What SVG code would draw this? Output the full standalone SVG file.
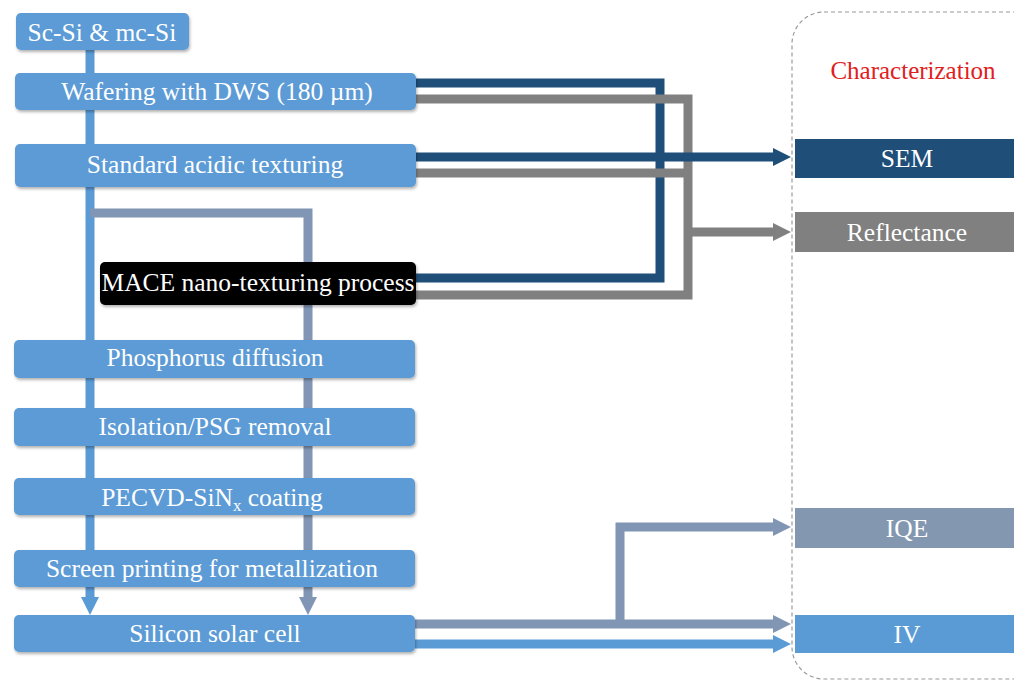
<svg xmlns="http://www.w3.org/2000/svg" width="1014" height="682" viewBox="0 0 1014 682">
<style>
.box{fill:#5b9bd5;filter:url(#sh)}
.t{font-family:"Liberation Serif","Times New Roman",serif;font-size:25.5px;fill:#fff;text-anchor:middle}
.ln{fill:none;stroke-width:9;stroke-linejoin:miter}
</style>
<defs>
<filter id="sh" x="-5%" y="-20%" width="110%" height="150%">
<feDropShadow dx="1" dy="2" stdDeviation="1.5" flood-color="#000" flood-opacity="0.3"/>
</filter>
<marker id="aDark" markerUnits="userSpaceOnUse" markerWidth="20" markerHeight="20" refX="0" refY="10" orient="auto"><path d="M0,1 L18,10 L0,19 Z" fill="#1f4e79"/></marker>
<marker id="aGray" markerUnits="userSpaceOnUse" markerWidth="20" markerHeight="20" refX="0" refY="10" orient="auto"><path d="M0,1 L18,10 L0,19 Z" fill="#808080"/></marker>
<marker id="aSlate" markerUnits="userSpaceOnUse" markerWidth="20" markerHeight="20" refX="0" refY="10" orient="auto"><path d="M0,1 L18,10 L0,19 Z" fill="#8096b4"/></marker>
<marker id="aLight" markerUnits="userSpaceOnUse" markerWidth="20" markerHeight="20" refX="0" refY="10" orient="auto"><path d="M0,1 L18,10 L0,19 Z" fill="#5b9bd5"/></marker>
</defs>
<rect width="1014" height="682" fill="#fff"/>
<g id="characterization">
<rect x="792" y="12" width="260" height="667" rx="32" fill="none" stroke="#9a9a9a" stroke-width="1.2" stroke-dasharray="4,3"/>
<text x="913" y="79" style="font-family:'Liberation Serif','Times New Roman',serif;font-size:25px;fill:#e02020;text-anchor:middle">Characterization</text>
</g>
<g id="connectors">
<path class="ln" d="M90,50 V597" stroke="#5b9bd5" marker-end="url(#aLight)"/>
<path class="ln" d="M90,213 H308 V597" stroke="#8096b4" marker-end="url(#aSlate)"/>
<path class="ln" d="M415,83 H660 V278 H415" stroke="#1f4e79"/>
<path class="ln" d="M415,99 H688 V295 H415" stroke="#808080"/>
<path class="ln" d="M415,173 H688" stroke="#808080"/>
<path class="ln" d="M688,232 H773" stroke="#808080" marker-end="url(#aGray)"/>
<path class="ln" d="M415,157 H773" stroke="#1f4e79" marker-end="url(#aDark)"/>
<path class="ln" d="M415,624 H773" stroke="#8096b4" marker-end="url(#aSlate)"/>
<path class="ln" d="M620,624 V527 H773" stroke="#8096b4" marker-end="url(#aSlate)"/>
<path class="ln" d="M415,644 H773" stroke="#5b9bd5" marker-end="url(#aLight)"/>
</g>
<g id="n-scsi"><rect class="box" x="16" y="13" width="173" height="37" rx="5"/><text class="t" x="102" y="41">Sc-Si &amp; mc-Si</text></g>
<g id="n-wafering"><rect class="box" x="15" y="73" width="401" height="37" rx="5"/><text class="t" x="217" y="100">Wafering with DWS (180 µm)</text></g>
<g id="n-acidic"><rect class="box" x="15" y="144" width="401" height="43" rx="5"/><text class="t" x="215" y="173">Standard acidic texturing</text></g>
<g id="n-mace"><rect x="100" y="262" width="316" height="43" rx="5" fill="#000" filter="url(#sh)"/><text class="t" x="258" y="291">MACE nano-texturing process</text></g>
<g id="n-phos"><rect class="box" x="14" y="340" width="401" height="38" rx="5"/><text class="t" x="215" y="366">Phosphorus diffusion</text></g>
<g id="n-iso"><rect class="box" x="14" y="408" width="401" height="38" rx="5"/><text class="t" x="215" y="435">Isolation/PSG removal</text></g>
<g id="n-pecvd"><rect class="box" x="14" y="478" width="401" height="37" rx="5"/><text class="t" x="212" y="506">PECVD-SiN<tspan font-size="17" dy="5">x</tspan><tspan dy="-5"> coating</tspan></text></g>
<g id="n-screen"><rect class="box" x="14" y="550" width="401" height="37" rx="5"/><text class="t" x="212" y="577">Screen printing for metallization</text></g>
<g id="n-cell"><rect class="box" x="14" y="615" width="401" height="37" rx="5"/><text class="t" x="215" y="642">Silicon solar cell</text></g>
<g id="n-sem"><rect x="795" y="139" width="219" height="39" fill="#1f4e79"/><text class="t" x="907" y="167">SEM</text></g>
<g id="n-refl"><rect x="795" y="212" width="219" height="40" fill="#808080"/><text class="t" x="907" y="241">Reflectance</text></g>
<g id="n-iqe"><rect x="795" y="508" width="219" height="40" fill="#8497b0"/><text class="t" x="907" y="537">IQE</text></g>
<g id="n-iv"><rect x="795" y="615" width="219" height="38" fill="#5b9bd5"/><text class="t" x="907" y="643">IV</text></g>
</svg>
